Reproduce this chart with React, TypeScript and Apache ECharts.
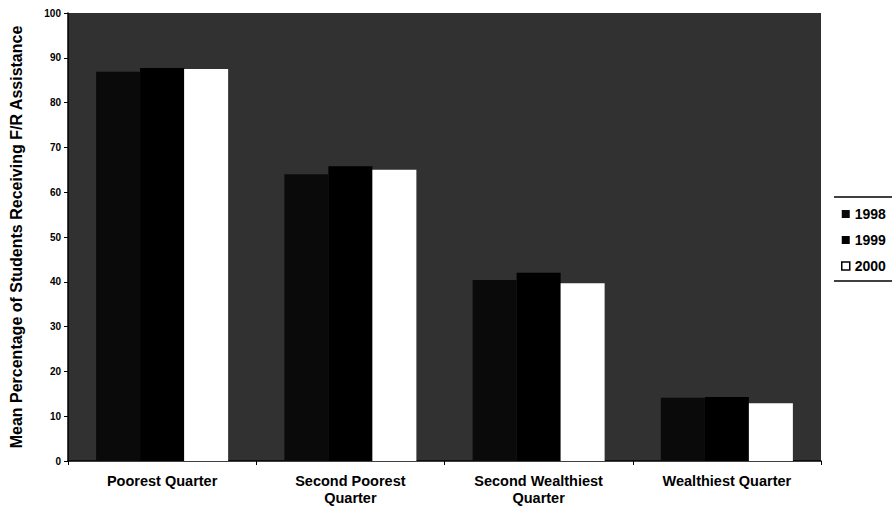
import React, { useEffect, useRef } from "react";
import * as echarts from "echarts";

const categories = [
  "Poorest Quarter",
  "Second Poorest\nQuarter",
  "Second Wealthiest\nQuarter",
  "Wealthiest Quarter",
];
const seriesNames = ["1998", "1999", "2000"];
const values1998 = [86.9, 64.0, 40.4, 14.1];
const values1999 = [87.7, 65.8, 42.0, 14.3];
const values2000 = [87.5, 65.0, 39.7, 12.9];
const yTicks = { min: 0, max: 100, interval: 10 };
const yTitle = "Mean Percentage of Students Receiving F/R Assistance";

export default function App() {
  const ref = useRef<HTMLDivElement>(null);
  useEffect(() => {
    if (!ref.current) return;
    const chart = echarts.init(ref.current, null, { renderer: "svg" });
    const font = "'Liberation Sans', Arial, sans-serif";
    const colors = ["#0a0a0a", "#000000", "#ffffff"];
    const data = [values1998, values1999, values2000];
    chart.setOption({
      animation: false,
      backgroundColor: "#ffffff",
      textStyle: { fontFamily: font },
      grid: {
        left: 64,
        right: 71,
        top: 13,
        bottom: 57,
        show: true,
        backgroundColor: "#313131",
        borderWidth: 0,
      },
      legend: {
        orient: "vertical",
        left: 836,
        top: 202,
        itemWidth: 8,
        itemHeight: 8,
        itemGap: 12,
        icon: "rect",
        textStyle: { fontSize: 14, fontWeight: "bold", color: "#000", fontFamily: font },
        data: seriesNames.map((n, i) => ({
          name: n,
          itemStyle: i === 2 ? { color: "#fff", borderColor: "#000", borderWidth: 1.5 } : { color: colors[i] },
        })),
      },
      graphic: [
        { type: "line", shape: { x1: 834, y1: 197, x2: 892, y2: 197 }, style: { stroke: "#000", lineWidth: 1.5 } },
        { type: "line", shape: { x1: 834, y1: 281, x2: 892, y2: 281 }, style: { stroke: "#000", lineWidth: 1.5 } },
      ],
      xAxis: {
        type: "category",
        data: categories,
        axisLine: { show: true, lineStyle: { color: "#000", width: 1.5 } },
        axisTick: { show: true, length: 4, lineStyle: { color: "#000" } },
        axisLabel: {
          color: "#000",
          fontSize: 14.5,
          fontWeight: "bold",
          fontFamily: font,
          lineHeight: 17,
          margin: 11,
        },
      },
      yAxis: {
        type: "value",
        min: yTicks.min,
        max: yTicks.max,
        interval: yTicks.interval,
        name: yTitle,
        nameLocation: "middle",
        nameRotate: 90,
        nameGap: 44,
        nameTextStyle: { fontSize: 16, fontWeight: "bold", color: "#000", fontFamily: font },
        axisLine: { show: true, lineStyle: { color: "#000", width: 1.5 } },
        axisTick: { show: true, length: 4, lineStyle: { color: "#000" } },
        splitLine: { show: false },
        axisLabel: { color: "#000", fontSize: 10, fontWeight: "bold", fontFamily: font, margin: 7 },
      },
      series: seriesNames.map((n, i) => ({
        name: n,
        type: "bar",
        data: data[i],
        barWidth: 44,
        barGap: "0%",
        itemStyle: { color: colors[i] },
      })),
    });
    return () => chart.dispose();
  }, []);
  return (
    <div
      ref={ref}
      style={{ position: "fixed", left: 0, top: 0, width: 892, height: 518 }}
    />
  );
}
